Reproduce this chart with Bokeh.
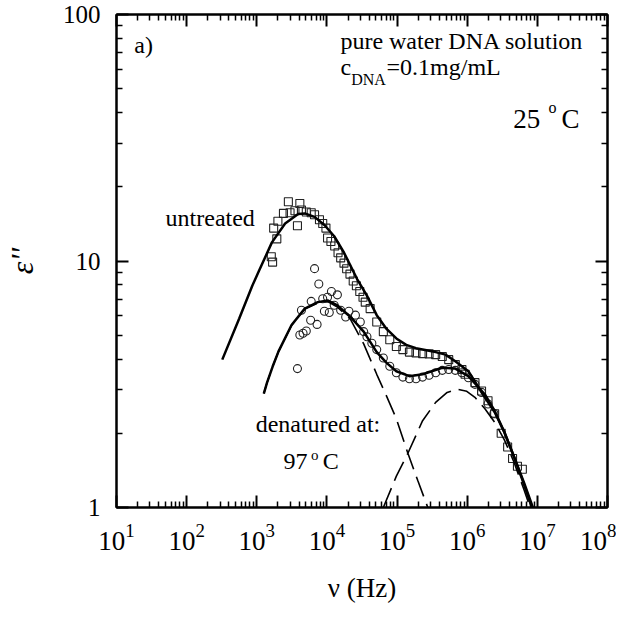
from bokeh.plotting import figure
from bokeh.models import LogAxis, FixedTicker, CustomJSTickFormatter, Label, LogTickFormatter
from bokeh.embed import file_html
from bokeh.resources import INLINE

# ---- untreated data (squares) ----
sq_f = [1610, 1680, 1930, 1740, 2000, 2400, 2820, 2980, 3500, 3800, 4110, 4330, 5080,
        5970, 6660, 7830, 8710, 9680, 10200, 11400, 12900, 14400, 15700, 17500, 19100,
        21300, 23700, 26300, 29400, 32700, 35200, 41300, 51300, 63700, 78700, 97700,
        121000, 150000, 186000, 231000, 286000, 355000, 441000, 545000, 676000, 840000,
        933000, 1290000, 1600000, 1980000, 2460000, 3050000, 3770000, 4430000, 5200000,
        6110000]
sq_e = [10.4, 9.9, 12.3, 13.6, 14.5, 15.6, 17.4, 15.7, 16.0, 13.9, 17.1, 16.1, 15.8,
        15.7, 15.4, 14.7, 14.2, 13.6, 12.4, 12.0, 11.5, 10.8, 10.3, 9.8, 9.3,
        8.85, 8.3, 7.94, 7.52, 7.13, 6.81, 6.41, 5.66, 5.17, 4.79, 4.50,
        4.37, 4.27, 4.24, 4.21, 4.20, 4.17, 4.10, 3.98, 3.80, 3.63,
        3.47, 3.21, 2.97, 2.71, 2.40, 2.00, 1.76, 1.58, 1.47,
        1.43]

# ---- denatured data (circles) ----
ci_f = [3800, 4110, 4570, 5080, 4330, 5970, 5860, 7240, 6660, 7660, 8710, 10200, 11600,
        14100, 9200, 10800, 12700, 15700, 18500, 20600, 25500, 29900, 33400, 37200,
        43700, 51300, 63700, 78700, 97700, 121000, 150000, 186000, 231000, 286000,
        355000, 441000, 545000, 676000, 840000, 1040000, 1290000, 1600000, 1980000,
        2400000]
ci_e = [3.66, 5.01, 5.09, 5.20, 6.31, 6.86, 5.75, 5.53, 9.31, 8.07, 7.03, 7.13, 7.52,
        7.29, 6.25, 6.18, 6.61, 6.31, 5.93, 6.25, 6.03, 5.66, 5.17, 4.93,
        4.64, 4.37, 4.04, 3.74, 3.52, 3.38, 3.33, 3.33, 3.38, 3.44,
        3.52, 3.60, 3.63, 3.60, 3.52, 3.36, 3.16, 2.93, 2.63,
        2.41]

# ---- fit, untreated ----
un_f = [322, 562, 863, 1072, 1644, 2535, 3890, 4831, 6664, 9204, 12700, 17540, 26920,
        37150, 51290, 70790, 97700, 134900, 186200, 354800, 489800, 676100, 1038000,
        1288000, 1600000, 2455000, 3388000, 4677000, 6457000, 8630000]
un_e = [3.98, 5.84, 7.94, 9.1, 11.9, 14.2, 15.5, 15.6, 15.1, 14.0, 12.6, 10.8, 8.45,
        7.24, 6.03, 5.30, 4.85, 4.57, 4.43, 4.27, 4.17, 3.92, 3.57,
        3.25, 2.93, 2.44, 2.02, 1.60, 1.26, 1.00]

# ---- fit, denatured ----
dn_f = [1259, 1400, 1683, 2042, 3133, 4831, 7413, 10230, 14130, 21680, 33420, 51290,
        70790, 97700, 150000, 231200, 440500, 676100, 1038000, 1778000, 2455000,
        3388000, 4677000, 6457000, 8360000]
dn_e = [2.90, 3.21, 3.73, 4.30, 5.50, 6.41, 6.81, 6.92, 6.61, 5.93, 5.17, 4.27,
        3.86, 3.57, 3.41, 3.47, 3.69, 3.66, 3.41, 2.88, 2.47,
        2.02, 1.60, 1.24, 1.00]

# ---- low-frequency relaxation component (dashed) ----
lf_f = [1259, 1400, 1683, 2042, 3133, 4831, 7413, 10230, 14130, 21680, 33420, 51290,
        70790, 97700, 142600, 198600, 274200]
lf_e = [2.90, 3.21, 3.73, 4.30, 5.48, 6.38, 6.76, 6.84, 6.50, 5.80, 4.61, 3.47,
        2.83, 2.29, 1.66, 1.28, 1.00]

# ---- high-frequency relaxation component (dashed) ----
hf_f = [63680, 97700, 142600, 231200, 354800, 517600, 714500, 986000, 1288000, 1778000,
        2455000, 3388000, 4677000, 6457000, 7350000, 7710000]
hf_e = [1.00, 1.34, 1.66, 2.25, 2.67, 2.93, 3.02, 2.96, 2.80, 2.52,
        2.22, 1.88, 1.52, 1.18, 1.06, 1.00]

x_ticks = [1e1, 1e2, 1e3, 1e4, 1e5, 1e6, 1e7, 1e8]
y_ticks = [1, 10, 100]
x_minor = [m * t for t in x_ticks[:-1] for m in range(2, 10)]
y_minor = [m * t for t in y_ticks[:-1] for m in range(2, 10)]

FONT = "Liberation Serif"

p = figure(width=616, height=612, x_axis_type="log", y_axis_type="log",
           x_range=(10, 1e8), y_range=(1, 100),
           output_backend="svg", toolbar_location=None,
           min_border_left=107, min_border_right=9, min_border_top=14,
           min_border_bottom=105)
p.xgrid.visible = False
p.ygrid.visible = False
p.outline_line_color = "black"
p.outline_line_width = 2
p.background_fill_color = "white"
p.border_fill_color = "white"


def style(ax):
    ax.axis_line_width = 2
    ax.axis_line_color = "black"
    ax.major_tick_in = 12
    ax.major_tick_out = 0
    ax.minor_tick_in = 6
    ax.minor_tick_out = 0
    ax.major_tick_line_width = 2
    ax.minor_tick_line_width = 1.5
    ax.major_tick_line_color = "black"
    ax.minor_tick_line_color = "black"
    ax.major_label_text_font = FONT
    ax.major_label_text_font_size = "27px"
    ax.major_label_text_color = "black"
    ax.axis_label_text_font = FONT
    ax.axis_label_text_color = "black"


xa = p.xaxis[0]
xa.ticker = FixedTicker(ticks=x_ticks, minor_ticks=x_minor)
xa.formatter = LogTickFormatter()
style(xa)
xa.major_label_standoff = 16
xa.axis_label = "ν (Hz)"
xa.axis_label_text_font_size = "27px"
xa.axis_label_text_font_style = "normal"
xa.axis_label_standoff = 20

ya = p.yaxis[0]
ya.ticker = FixedTicker(ticks=y_ticks, minor_ticks=y_minor)
ya.formatter = CustomJSTickFormatter(code="return tick.toFixed(0);")
style(ya)
ya.major_label_text_font_size = "25px"
ya.major_label_standoff = 16
ya.axis_label = "ε''"
ya.axis_label_text_font_size = "32px"
ya.axis_label_text_font_style = "italic"
ya.axis_label_standoff = 20

top = LogAxis(ticker=FixedTicker(ticks=x_ticks, minor_ticks=x_minor),
              formatter=CustomJSTickFormatter(code="return '';"))
style(top)
top.major_label_standoff = 0
p.add_layout(top, "above")

right = LogAxis(ticker=FixedTicker(ticks=y_ticks, minor_ticks=y_minor),
                formatter=CustomJSTickFormatter(code="return '';"))
style(right)
right.major_label_standoff = 0
p.add_layout(right, "right")

# markers
p.scatter(sq_f, sq_e, marker="square", size=8, line_color="#222222",
          fill_color=None, line_width=1.1)
p.scatter(ci_f, ci_e, marker="circle", size=8, line_color="#222222",
          fill_color=None, line_width=1.1)

# components and fits
p.line(lf_f, lf_e, line_color="black", line_width=1.6, line_dash="21 8")
p.line(hf_f, hf_e, line_color="black", line_width=1.6, line_dash="21 8")
p.line(un_f, un_e, line_color="black", line_width=2.5)
p.line(dn_f, dn_e, line_color="black", line_width=2.5)


def lab(x, y, text, size="24px"):
    p.add_layout(Label(x=x, y=y, text=text, text_font=FONT, text_font_size=size,
                       text_color="black", text_align="left",
                       text_baseline="alphabetic"))


lab(17.9, 75.5, "a)")
lab(15560, 78.2, "pure water DNA solution")
lab(15560, 61.0, "c")
lab(22180, 54.6, "DNA", "16px")
lab(70800, 61.0, "=0.1mg/mL")
lab(4.53e6, 37.8, "25", "27px")
lab(1.445e7, 42.0, "o", "16px")
lab(2.2e7, 37.8, "C", "27px")
lab(50.1, 15.0, "untreated")
lab(963, 2.19, "denatured at:")
lab(2399, 1.54, "97")
lab(5916, 1.63, "o", "15px")
lab(8710, 1.54, "C")

open("out.html", "w").write(file_html(p, INLINE))
